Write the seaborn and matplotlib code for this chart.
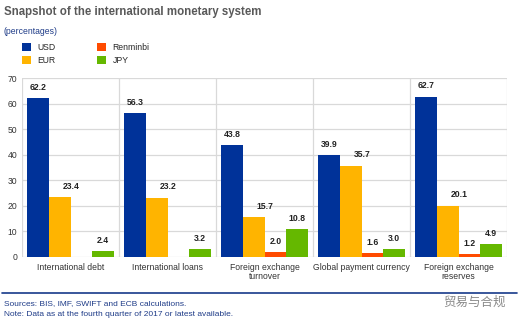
import numpy as np
import pandas as pd
import matplotlib
matplotlib.use("Agg")
import matplotlib.pyplot as plt
import seaborn as sns
from matplotlib.patches import Patch
from matplotlib.lines import Line2D

# ---- data ----
categories = ["International debt", "International loans", "Foreign exchange\nturnover",
              "Global payment currency", "Foreign exchange\nreserves"]
currencies = ["USD", "EUR", "Renminbi", "JPY"]
usd = [62.2, 56.3, 43.8, 39.9, 62.7]
eur = [23.4, 23.2, 15.7, 35.7, 20.1]
rmb = [np.nan, np.nan, 2.0, 1.6, 1.2]
jpy = [2.4, 3.2, 10.8, 3.0, 4.9]
yticks = [0, 10, 20, 30, 40, 50, 60, 70]

colors = {"USD": "#003299", "EUR": "#FFB400", "Renminbi": "#FF4B00", "JPY": "#65B800"}

rows = []
for cur, vals in zip(currencies, [usd, eur, rmb, jpy]):
    for cat, v in zip(categories, vals):
        rows.append({"category": cat, "currency": cur, "value": v})
df = pd.DataFrame(rows)

sns.set_style("white")
plt.rcParams["font.family"] = ["Liberation Sans", "DejaVu Sans"]

fig = plt.figure(figsize=(5.24, 3.27), dpi=100)
ax = fig.add_axes([22/524, 1-257/327, (507-22)/524, (257-78)/327])

sns.barplot(data=df, x="category", y="value", hue="currency", order=categories,
            hue_order=currencies, palette=colors, saturation=1, width=0.9,
            dodge=True, linewidth=0, legend=False, ax=ax, errorbar=None)

# value labels
label_dx = {"USD": 0, "EUR": 8.5, "Renminbi": 0, "JPY": 0}
for cur, cont in zip(currencies, ax.containers):
    for bar in cont:
        h = bar.get_height()
        if h is None or not np.isfinite(h):
            continue
        ax.annotate(f"{h:.1f}", (bar.get_x() + bar.get_width()/2, h),
                    xytext=(label_dx[cur], 4.5), textcoords="offset points",
                    ha="center", va="bottom", fontsize=6.2, fontweight="bold",
                    color="#222222")

ax.set_xlim(-0.5, 4.5)
ax.set_ylim(0, 70)
ax.set_yticks(yticks)
ax.set_xticks(range(len(categories)))
ax.set_xticklabels(categories, linespacing=1.1)
ax.set_xticks(np.arange(-0.5, 5, 1), minor=True)
ax.set_xlabel("")
ax.set_ylabel("")
ax.set_axisbelow(True)
ax.yaxis.grid(True, color="#d9d9d9", lw=0.9)
ax.xaxis.grid(True, which="minor", color="#d9d9d9", lw=0.9)
ax.xaxis.grid(False, which="major")
for s in ax.spines.values():
    s.set_visible(False)
ax.tick_params(axis="both", which="both", length=0, labelsize=6.2, colors="#333333")
ax.tick_params(axis="y", pad=3.5)
ax.tick_params(axis="x", pad=4)

# titles
fig.text(4/524, 1-12/327, "Snapshot of the international monetary system", fontsize=8.3,
         fontweight="bold", color="#595959", ha="left", va="center")
fig.text(4/524, 1-31/327, "(percentages)", fontsize=6.2, color="#1f3c88",
         ha="left", va="center")

handles = [Patch(facecolor=colors[c], edgecolor="none") for c in currencies]
fig.legend(handles, currencies, loc="upper left", bbox_to_anchor=(22/524, 1-43/327),
           ncol=2, frameon=False, fontsize=6.2, handlelength=1.05, handleheight=1.05,
           handletextpad=0.75, columnspacing=4.8, labelspacing=0.45, borderpad=0,
           borderaxespad=0)

# footer
fig.add_artist(Line2D([2/524, 517/524], [1-293/327]*2, color="#17398a", lw=1.2))
fig.text(4/524, 1-304/327, "Sources: BIS, IMF, SWIFT and ECB calculations.", fontsize=6.0,
         color="#1f3c88", ha="left", va="center")
fig.text(4/524, 1-315/327, "Note: Data as at the fourth quarter of 2017 or latest available.",
         fontsize=6.0, color="#1f3c88", ha="left", va="center")
fig.text(506/524, 1-302/327, "贸易与合规", fontsize=9, color="#8a8a8a", ha="right",
         va="center", family=["Noto Sans CJK SC", "DejaVu Sans"])

fig.savefig("out.png", dpi=100)
